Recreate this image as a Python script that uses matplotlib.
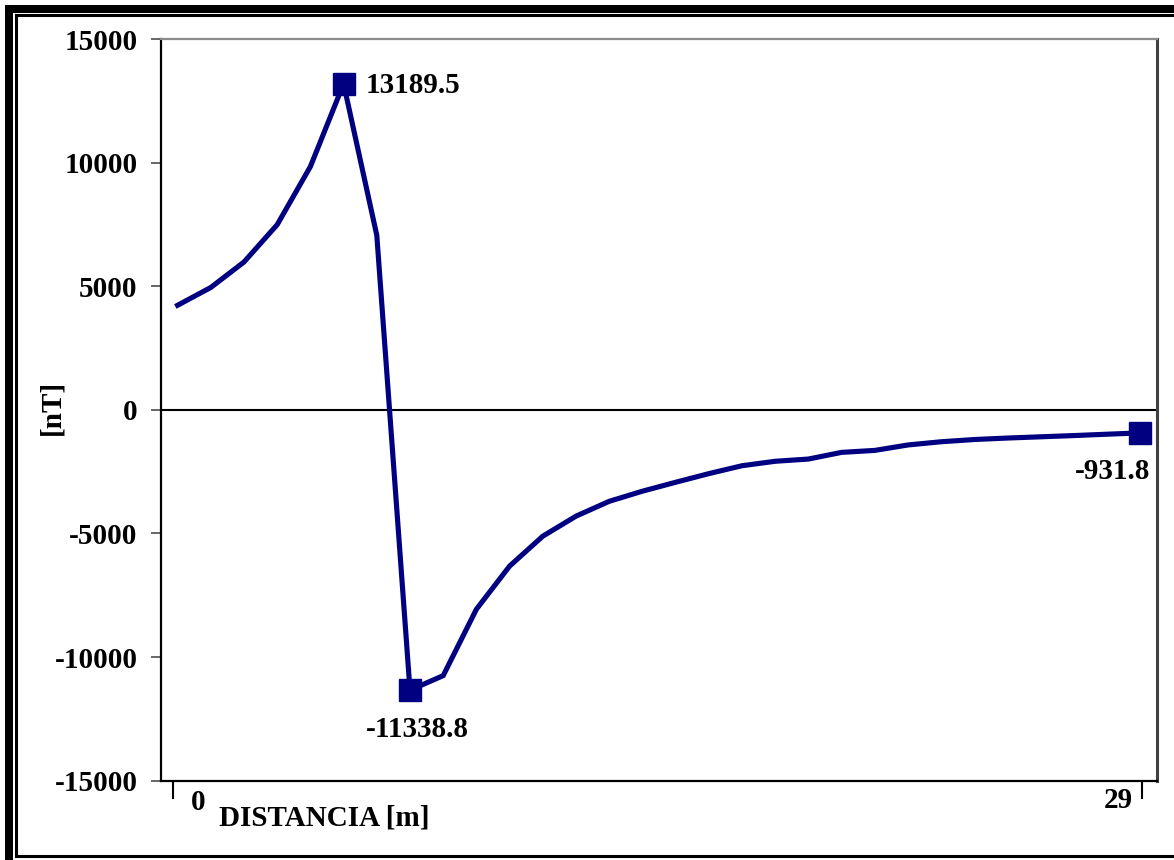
import matplotlib
matplotlib.use("Agg")
import matplotlib.pyplot as plt
from matplotlib.patches import Rectangle
from matplotlib.lines import Line2D
import numpy as np

# magnetic anomaly profile, one reading per metre
distancia = list(range(30))
anomalia_nT = [
    4230, 4950, 5980, 7490, 9840, 13189.5, 7060, -11338.8, -10750, -8065,
    -6320, -5110, -4300, -3700, -3290, -2930, -2580, -2260, -2080, -1990,
    -1720, -1640, -1420, -1290, -1200, -1140, -1090, -1040, -985, -931.8,
]
# points that carry a marker + value label
marcados = [5, 7, 29]
y_ticks = [-15000, -10000, -5000, 0, 5000, 10000, 15000]

W, H = 1174, 860
NAVY = "#000080"
plt.rcParams["font.family"] = ["Liberation Serif", "DejaVu Serif"]
plt.rcParams["font.weight"] = "bold"
FS = 21


def fx(px):
    return px / W


def fy(py):
    return 1 - py / H


fig = plt.figure(figsize=(W / 100, H / 100), dpi=100)
ax = fig.add_axes([fx(161), fy(780.7), fx(1157) - fx(161), fy(39) - fy(780.7)])

x = np.asarray(distancia, dtype=float)
y = np.asarray(anomalia_nT, dtype=float)

ax.axhline(0, color="black", lw=1.5, zorder=1)
ax.plot(x, y, color=NAVY, lw=3.7, solid_joinstyle="miter", zorder=3)
ax.plot(x[marcados], y[marcados], ls="none", marker="s", ms=16,
        color=NAVY, zorder=4)

ax.set_xlim(-0.5, 29.5)
ax.set_ylim(-15000, 15000)
ax.set_yticks(y_ticks)
ax.set_yticklabels([f"{v}" for v in y_ticks], fontsize=FS, fontweight="bold")
ax.tick_params(axis="y", direction="out", length=7, width=1.2, pad=10,
               color="0.3")
ax.set_xticks([-0.15, 29.05])
ax.set_xticklabels(["", ""])
ax.tick_params(axis="x", direction="out", length=13, width=1.5, color="black")

for s in ("left", "bottom"):
    ax.spines[s].set_color("black")
    ax.spines[s].set_linewidth(1.6)
ax.spines["top"].set_color("0.55")
ax.spines["top"].set_linewidth(1.6)
ax.spines["right"].set_color("0.25")
ax.spines["right"].set_linewidth(2.2)

# value labels
ax.annotate(f"{y[5]:.1f}", (x[5], y[5]), xytext=(16, -1),
            textcoords="offset points", ha="left", va="center",
            fontsize=FS, fontweight="bold")
ax.annotate(f"{y[7]:.1f}", (x[7], y[7]), xytext=(5, -28),
            textcoords="offset points", ha="center", va="center",
            fontsize=FS, fontweight="bold")
ax.annotate(f"{y[29]:.1f}", (x[29], y[29]), xytext=(7, -28),
            textcoords="offset points", ha="right", va="center",
            fontsize=FS, fontweight="bold")

# axis labels (Excel-style placement)
xt = ax.get_xaxis_transform()
ax.annotate("0", (x[0], 0), xycoords=xt, xytext=(15, -16),
            textcoords="offset points", ha="center", va="center",
            fontsize=FS, fontweight="bold")
ax.annotate("29", (x[-1], 0), xycoords=xt, xytext=(-16, -14),
            textcoords="offset points", ha="center", va="center",
            fontsize=FS, fontweight="bold")
fig.text(fx(219), fy(818), "DISTANCIA [m]", ha="left", va="center",
         fontsize=FS, fontweight="bold")
fig.text(fx(52), fy(407), "[nT]", rotation=90, ha="center", va="center",
         fontsize=FS, fontweight="bold")

# outer frame: heavy shadow on top/left plus thin inner border
fig.patches.append(Rectangle((fx(5), 0), fx(8), fy(5), transform=fig.transFigure,
                             facecolor="black", edgecolor="none"))
fig.patches.append(Rectangle((fx(5), fy(13)), 1 - fx(5), fy(5) - fy(13),
                             transform=fig.transFigure, facecolor="black",
                             edgecolor="none"))
frame_kw = dict(transform=fig.transFigure, color="black", lw=2.2)
fig.lines.append(Line2D([fx(15.5), fx(15.5)], [fy(15.3), fy(856)], **frame_kw))
fig.lines.append(Line2D([fx(15.5), 1], [fy(15.3), fy(15.3)], **frame_kw))
fig.lines.append(Line2D([fx(15.5), 1], [fy(856), fy(856)], **frame_kw))

fig.savefig("out.png", dpi=100)
